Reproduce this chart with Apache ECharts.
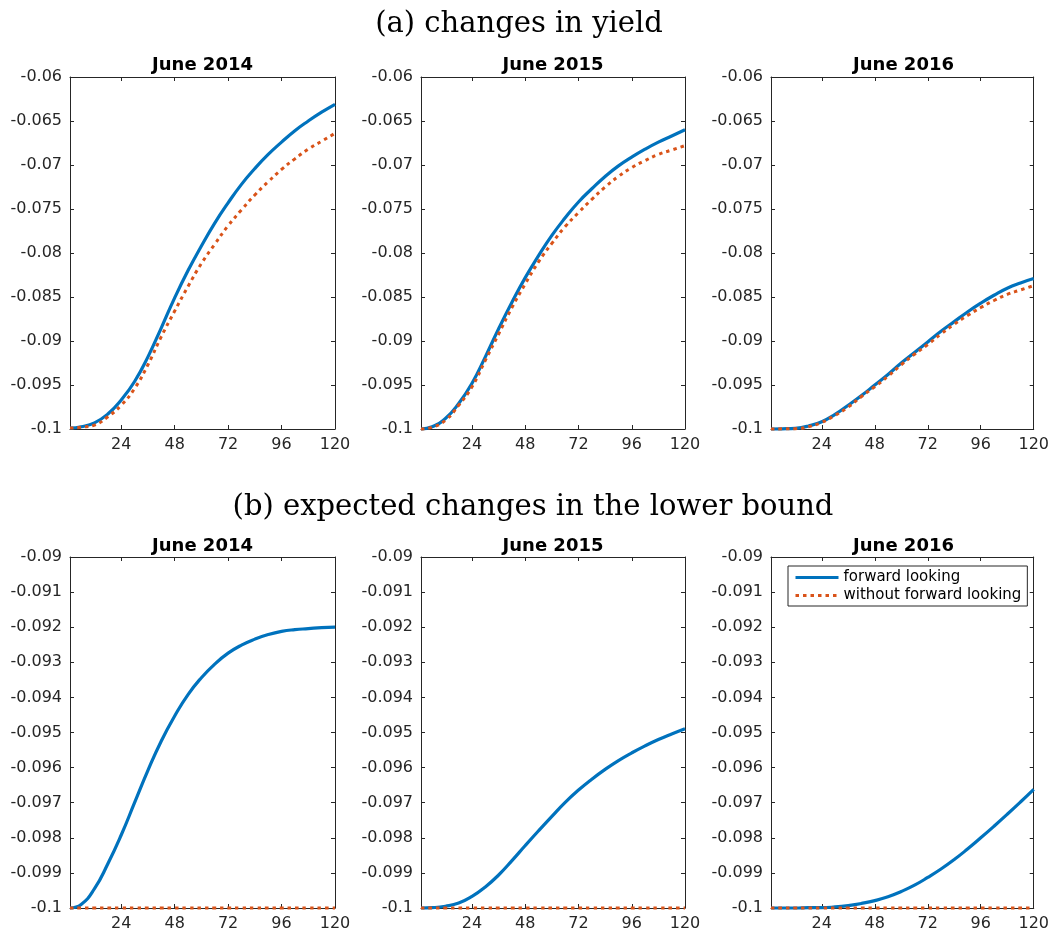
<!DOCTYPE html>
<html>
<head>
<meta charset="utf-8">
<script src="https://cdn.jsdelivr.net/npm/echarts@6/dist/echarts.min.js"></script>
<style>
  html, body { margin: 0; padding: 0; background: #ffffff; }
  #chart { width: 1052px; height: 932px; }
</style>
</head>
<body>
<div id="chart"></div>
<script>
// Horizon in months
const months = [1, 6, 12, 18, 24, 30, 36, 42, 48, 54, 60, 66, 72, 78, 84, 90, 96, 102, 108, 114, 120];
const xTicks = [24, 48, 72, 96, 120];
const panelTitles = ['June 2014', 'June 2015', 'June 2016'];
const seriesNames = ['forward looking', 'without forward looking'];

// (a) changes in yield
const yield2014Fwd   = [-0.0999, -0.09975, -0.0993, -0.0983, -0.0967, -0.0946, -0.0918, -0.0885, -0.0851, -0.0820, -0.0792, -0.0766, -0.0743, -0.0722, -0.0704, -0.0688, -0.0674, -0.0661, -0.0650, -0.0640, -0.0631];
const yield2014NoFwd = [-0.0999, -0.0998, -0.09955, -0.0986, -0.0973, -0.0954, -0.0927, -0.0895, -0.0866, -0.0838, -0.0812, -0.0790, -0.0769, -0.0751, -0.0734, -0.0719, -0.0705, -0.0693, -0.0682, -0.0673, -0.0664];
const yield2015Fwd   = [-0.1, -0.09975, -0.0988, -0.0971, -0.0948, -0.0918, -0.0886, -0.0856, -0.0828, -0.0803, -0.0780, -0.0760, -0.0742, -0.0727, -0.0713, -0.0701, -0.0691, -0.0682, -0.0674, -0.0667, -0.0660];
const yield2015NoFwd = [-0.1, -0.0998, -0.0990, -0.0973, -0.0952, -0.0922, -0.0892, -0.0862, -0.0835, -0.0810, -0.0789, -0.0770, -0.0754, -0.0739, -0.0725, -0.0713, -0.0703, -0.0695, -0.0688, -0.0683, -0.0678];
const yield2016Fwd   = [-0.1, -0.09998, -0.09992, -0.09966, -0.09917, -0.09834, -0.0973, -0.0962, -0.0950, -0.0938, -0.0925, -0.0913, -0.0901, -0.0889, -0.0878, -0.0867, -0.0857, -0.0848, -0.0840, -0.0834, -0.0829];
const yield2016NoFwd = [-0.1, -0.09998, -0.09996, -0.09974, -0.09924, -0.09845, -0.0975, -0.0963, -0.0952, -0.0940, -0.0927, -0.0915, -0.0904, -0.0892, -0.0881, -0.0871, -0.0862, -0.0854, -0.0847, -0.0842, -0.0837];

// (b) expected changes in the lower bound
const lb2014Fwd   = [-0.1, -0.09990, -0.09945, -0.09874, -0.09792, -0.09700, -0.09608, -0.09524, -0.09453, -0.09392, -0.09344, -0.09305, -0.09274, -0.09251, -0.09234, -0.09221, -0.09212, -0.09207, -0.09204, -0.09201, -0.09200];
const lb2015Fwd   = [-0.1, -0.09999, -0.09995, -0.09986, -0.09967, -0.09940, -0.09906, -0.09865, -0.09822, -0.09780, -0.09739, -0.09699, -0.09664, -0.09633, -0.09605, -0.09580, -0.09558, -0.09538, -0.09520, -0.09504, -0.09489];
const lb2016Fwd   = [-0.1, -0.1, -0.1, -0.09999, -0.09999, -0.09997, -0.09993, -0.09987, -0.09979, -0.09968, -0.09953, -0.09935, -0.09913, -0.09889, -0.09862, -0.09832, -0.09800, -0.09767, -0.09733, -0.09698, -0.09662];
const lbNoFwd     = [-0.1, -0.1, -0.1, -0.1, -0.1, -0.1, -0.1, -0.1, -0.1, -0.1, -0.1, -0.1, -0.1, -0.1, -0.1, -0.1, -0.1, -0.1, -0.1, -0.1, -0.1];

const yTopRange = { min: -0.1, max: -0.06, interval: 0.005 };
const yBotRange = { min: -0.1, max: -0.09, interval: 0.001 };

const panels = [
  { row: 0, col: 0, fwd: yield2014Fwd, noFwd: yield2014NoFwd, y: yTopRange },
  { row: 0, col: 1, fwd: yield2015Fwd, noFwd: yield2015NoFwd, y: yTopRange },
  { row: 0, col: 2, fwd: yield2016Fwd, noFwd: yield2016NoFwd, y: yTopRange },
  { row: 1, col: 0, fwd: lb2014Fwd, noFwd: lbNoFwd, y: yBotRange },
  { row: 1, col: 1, fwd: lb2015Fwd, noFwd: lbNoFwd, y: yBotRange },
  { row: 1, col: 2, fwd: lb2016Fwd, noFwd: lbNoFwd, y: yBotRange }
];

// layout
const cols = [{ left: 70, width: 265 }, { left: 421, width: 264 }, { left: 771, width: 265 }];
const rows = [{ top: 77, height: 352 }, { top: 557, height: 353 }];
const panelTitleY = [65, 546];

const BLUE = '#0072BD';
const ORANGE = '#D95319';
const AXIS = '#262626';
const SANS = 'DejaVu Sans';

const grids = [], xAxes = [], yAxes = [], series = [], graphics = [];

function fmtY(v) { return String(+v.toFixed(4)); }

panels.forEach((p, i) => {
  const c = cols[p.col], r = rows[p.row];
  grids.push({ left: c.left, top: r.top, width: c.width, height: r.height, containLabel: false });
  const axisLine = { show: true, onZero: false, lineStyle: { color: AXIS, width: 1 } };
  xAxes.push({
    type: 'value', gridIndex: i, position: 'bottom', min: 1, max: 120,
    axisLine: axisLine,
    axisTick: { show: true, inside: true, length: 4, customValues: xTicks, lineStyle: { color: AXIS } },
    axisLabel: { show: true, customValues: xTicks, margin: 8, color: AXIS, fontSize: 16, fontFamily: SANS },
    splitLine: { show: false }
  });
  xAxes.push({
    type: 'value', gridIndex: i, position: 'top', min: 1, max: 120,
    axisLine: axisLine,
    axisTick: { show: true, inside: true, length: 4, customValues: xTicks, lineStyle: { color: AXIS } },
    axisLabel: { show: false },
    splitLine: { show: false }
  });
  yAxes.push({
    type: 'value', gridIndex: i, position: 'left', min: p.y.min, max: p.y.max, interval: p.y.interval,
    axisLine: axisLine,
    axisTick: { show: true, inside: true, length: 4, lineStyle: { color: AXIS } },
    axisLabel: { show: true, margin: 8, color: AXIS, fontSize: 16, fontFamily: SANS, formatter: fmtY },
    splitLine: { show: false }
  });
  yAxes.push({
    type: 'value', gridIndex: i, position: 'right', min: p.y.min, max: p.y.max, interval: p.y.interval,
    axisLine: axisLine,
    axisTick: { show: true, inside: true, length: 4, lineStyle: { color: AXIS } },
    axisLabel: { show: false },
    splitLine: { show: false }
  });
  series.push({
    name: seriesNames[0], type: 'line', xAxisIndex: 2 * i, yAxisIndex: 2 * i,
    data: months.map((m, k) => [m, p.fwd[k]]),
    showSymbol: false, symbol: 'none', smooth: 0.5, clip: false,
    lineStyle: { color: BLUE, width: 3.2 }, itemStyle: { color: BLUE }, z: 3
  });
  series.push({
    name: seriesNames[1], type: 'line', xAxisIndex: 2 * i, yAxisIndex: 2 * i,
    data: months.map((m, k) => [m, p.noFwd[k]]),
    showSymbol: false, symbol: 'none', smooth: 0.5, clip: false,
    lineStyle: { color: ORANGE, width: 3, type: [3.5, 4], cap: 'butt' }, itemStyle: { color: ORANGE }, z: 4
  });
  graphics.push({
    type: 'text', x: c.left + c.width / 2, y: panelTitleY[p.row],
    style: { text: panelTitles[p.col], font: 'bold 18px "DejaVu Sans"', fill: '#000', textAlign: 'center', textVerticalAlign: 'middle' }
  });
});

graphics.push({
  type: 'text', x: 519, y: 24,
  style: { text: '(a) changes in yield', font: '29px "DejaVu Serif"', fill: '#000', textAlign: 'center', textVerticalAlign: 'middle' }
});
graphics.push({
  type: 'text', x: 533, y: 507,
  style: { text: '(b) expected changes in the lower bound', font: '29px "DejaVu Serif"', fill: '#000', textAlign: 'center', textVerticalAlign: 'middle' }
});

const option = {
  backgroundColor: '#ffffff',
  animation: false,
  grid: grids,
  xAxis: xAxes,
  yAxis: yAxes,
  series: series,
  graphic: graphics,
  legend: {
    data: seriesNames,
    orient: 'vertical',
    left: 788, top: 566,
    itemWidth: 43, itemHeight: 14, itemGap: 3,
    padding: [4, 6, 3, 6],
    backgroundColor: '#ffffff',
    borderColor: AXIS, borderWidth: 1,
    itemStyle: { opacity: 0 },
    lineStyle: { width: 3 },
    textStyle: { fontSize: 15, fontFamily: SANS, color: '#000' }
  }
};

const chart = echarts.init(document.getElementById('chart'), null, { renderer: 'canvas' });
chart.setOption(option);
</script>
</body>
</html>
